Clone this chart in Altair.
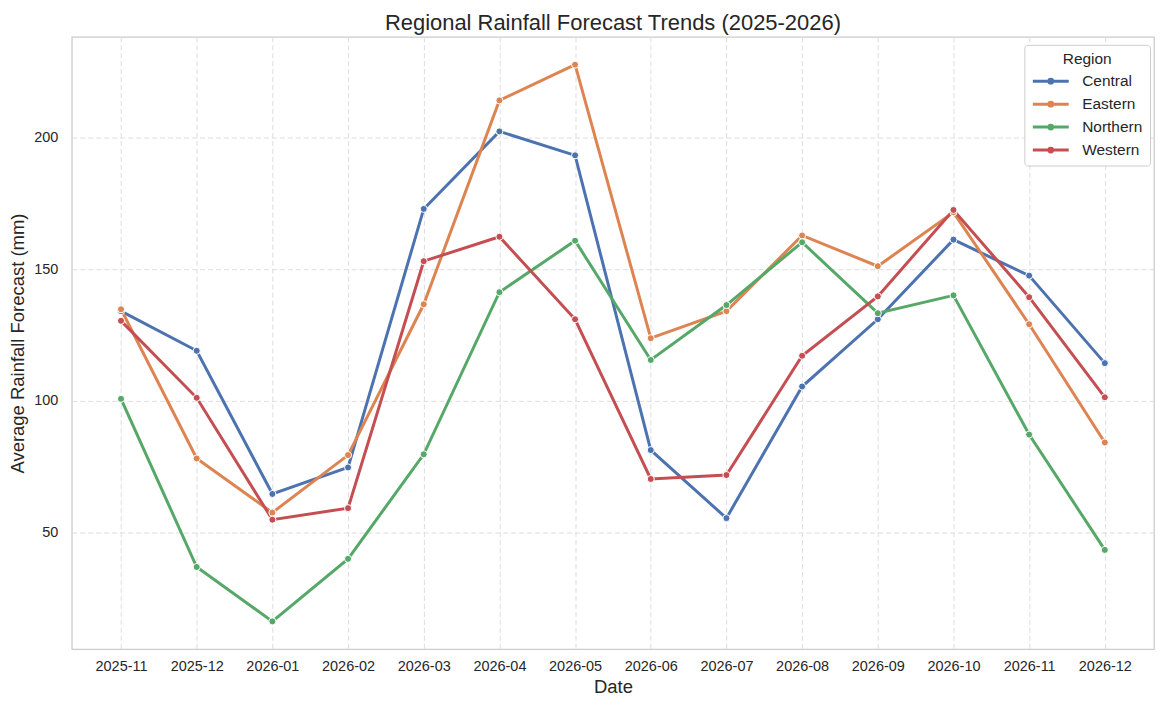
import altair as alt
import pandas as pd

dates = ["2025-11", "2025-12", "2026-01", "2026-02", "2026-03", "2026-04", "2026-05",
         "2026-06", "2026-07", "2026-08", "2026-09", "2026-10", "2026-11", "2026-12"]
regions = ["Central", "Eastern", "Northern", "Western"]
central = [134.1, 119.0, 64.5, 74.6, 173.0, 202.5, 193.4, 81.2, 55.3, 105.4, 131.0, 161.3, 147.6, 114.3]
eastern = [134.8, 78.0, 57.4, 79.3, 136.7, 214.3, 227.9, 123.8, 134.1, 162.9, 151.2, 171.7, 129.1, 84.1]
northern = [100.7, 36.7, 16.0, 39.8, 79.6, 141.3, 160.9, 115.5, 136.4, 160.3, 133.3, 140.1, 87.1, 43.2]
western = [130.4, 101.1, 54.7, 59.1, 153.1, 162.4, 131.0, 70.2, 71.7, 117.1, 139.7, 172.6, 139.4, 101.3]
colors = ["#4C72B0", "#DD8452", "#55A868", "#C44E52"]

rows = []
for reg, vals in zip(regions, [central, eastern, northern, western]):
    for d, v in zip(dates, vals):
        rows.append({"Date": d, "Region": reg, "Rain": v})
df = pd.DataFrame(rows)

FONT = "Liberation Sans"
# legend glyph: a line with a dot, extending to the right of the symbol box
sym = "M-1,0H3.8M1.15,0A0.25,0.25 0 1,0 1.65,0A0.25,0.25 0 1,0 1.15,0Z"

x = alt.X("Date:O", sort=dates,
          scale=alt.Scale(type="point", padding=0.65),
          axis=alt.Axis(title="Date", labelAngle=0, ticks=False, labelPadding=10, grid=True,
                        titleFontSize=18.5, titleFontWeight="normal", titlePadding=5,
                        labelFontSize=14.5, domain=False))
y = alt.Y("Rain:Q", scale=alt.Scale(domain=[5.4, 238.5], nice=False, zero=False),
          axis=alt.Axis(title="Average Rainfall Forecast (mm)", values=[50, 100, 150, 200],
                        ticks=False, labelPadding=14, titleFontSize=18.5, titleFontWeight="normal",
                        titlePadding=6, labelFontSize=14.5, domain=False))
color = alt.Color("Region:N", scale=alt.Scale(domain=regions, range=colors),
                  legend=alt.Legend(title="Region", orient="none", legendX=955, legendY=8,
                                    symbolType=sym, symbolSize=225, symbolStrokeWidth=3,
                                    labelFontSize=15.5, titleFontSize=15.5, titleFontWeight="normal",
                                    titleAnchor="middle", titlePadding=5, padding=7, rowPadding=5,
                                    labelOffset=33, fillColor="white", strokeColor="#cccccc",
                                    cornerRadius=3))

lines = alt.Chart(df).mark_line(strokeWidth=3).encode(x=x, y=y, color=color)
pts = alt.Chart(df).mark_point(filled=True, size=50, stroke="white", strokeWidth=1,
                               opacity=1).encode(x=x, y=y, fill=alt.Fill("Region:N",
                               scale=alt.Scale(domain=regions, range=colors), legend=None))

chart = alt.layer(lines, pts).properties(
    width=1085, height=614,
    title=alt.TitleParams("Regional Rainfall Forecast Trends (2025-2026)", fontSize=22,
                          fontWeight="normal", offset=2, font=FONT, color="#262626"),
    autosize=alt.AutoSizeParams(type="none"),
    padding={"left": 64, "top": 28, "right": 5, "bottom": 50},
).configure(font=FONT).configure_axis(
    gridColor="#dddddd", gridDash=[5, 3], gridWidth=1, labelColor="#262626",
    titleColor="#262626", labelFont=FONT, titleFont=FONT
).configure_view(stroke="#cccccc", strokeWidth=1.3).configure_legend(
    labelColor="#262626", titleColor="#262626", labelFont=FONT, titleFont=FONT
)

chart.save("out.html", embed_options={"renderer": "svg", "actions": False})
